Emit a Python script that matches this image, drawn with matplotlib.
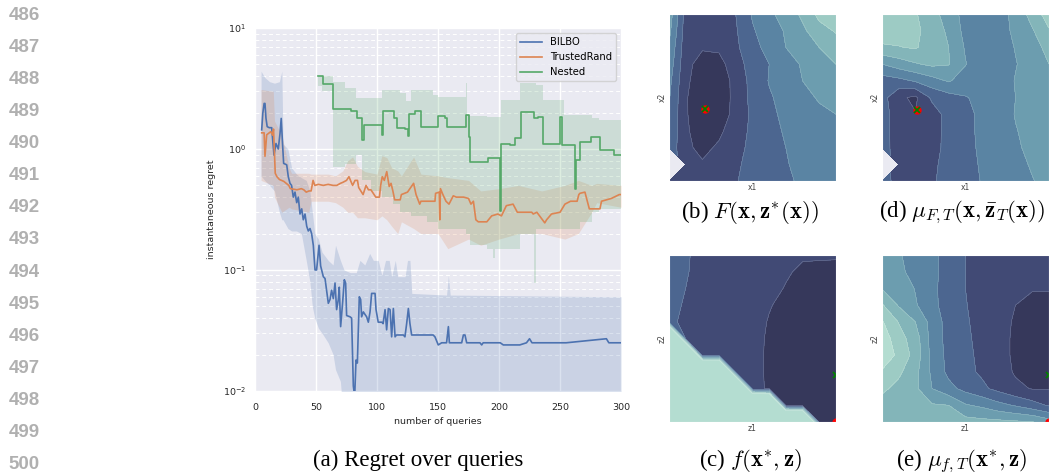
import numpy as np
import matplotlib
matplotlib.use("Agg")
import matplotlib.pyplot as plt
from matplotlib.lines import Line2D

plt.rcParams["mathtext.fontset"] = "cm"
plt.rcParams["font.family"] = ["DejaVu Sans"]

# ---- regret curves ----
bilbo_x = [5.5, 6.4, 7.5, 8.2, 9, 10, 11.7, 13.7, 14.5, 15.6, 17.2, 19.1, 20.5, 21.5, 22.7, 23.5, 26, 27.3,
           28.7, 30, 31.4, 32.8, 34.2, 35.5, 36.9, 38.3, 39.6, 41, 42.4, 43.7, 45.1, 46.4, 47.8, 49.2, 50.5,
           52.5, 53.8, 56, 57.4, 60.1, 61.5, 62.8, 64.2, 65.6, 66.9, 68.3, 69.1, 70.2, 71.9, 73.2, 74.3,
           75.1, 77.9, 79.2, 80.6, 81.7, 82.8, 83.9, 85.5, 86.6, 87.4, 88.8, 90.1, 91.5, 92.9, 94.3, 95.6,
           98.4, 99.2, 101, 104, 105, 106.6, 107.9, 109.3, 110.7, 112, 113.4, 114.8, 116, 121.6, 122.9,
           124.3, 125.7, 127, 128.4, 146, 147.5, 150.2, 153, 157, 158.5, 159.3, 169.4, 170.8, 172.1, 173.5,
           184.4, 185.8, 187, 201, 203.5, 217, 222.5, 225, 227, 255, 288, 290, 300]
bilbo_y = [1.44, 1.97, 2.38, 2.38, 1.8, 1.53, 1.5, 1.5, 1.19, 0.89, 1.11, 1.0, 1.34, 1.79, 1.05, 0.76, 0.74, 0.59,
           0.52, 0.5, 0.4, 0.44, 0.36, 0.4, 0.29, 0.32, 0.26, 0.29, 0.23, 0.21, 0.22, 0.2, 0.16, 0.1, 0.1,
           0.16, 0.108, 0.088, 0.085, 0.053, 0.057, 0.068, 0.058, 0.078, 0.047, 0.057, 0.072, 0.034, 0.055, 0.083, 0.078,
           0.042, 0.041, 0.04, 0.011, 0.009, 0.018, 0.017, 0.06, 0.057, 0.041, 0.045, 0.043, 0.041, 0.037, 0.045, 0.064,
           0.064, 0.047, 0.037, 0.037, 0.036, 0.047, 0.032, 0.048, 0.047, 0.028, 0.048, 0.028, 0.029, 0.029, 0.028,
           0.036, 0.048, 0.036, 0.029, 0.029, 0.028, 0.024, 0.025, 0.025, 0.034, 0.025, 0.025, 0.029, 0.029, 0.025,
           0.025, 0.024, 0.025, 0.025, 0.024, 0.024, 0.025, 0.027, 0.025, 0.025, 0.027, 0.025, 0.025]
bilbo_bx = [5, 8, 12, 16, 20, 22, 23, 27, 30, 34, 38, 42, 45, 47, 49, 52, 55, 60, 64, 66, 70, 73, 78, 83, 86,
            90, 94, 97, 101, 104, 107, 110, 112, 115, 117, 123, 125, 127, 128.5, 157, 158.5, 160, 300]
bilbo_lo = [0.6, 0.55, 0.5, 0.45, 0.3, 0.26, 0.26, 0.22, 0.21, 0.21, 0.2, 0.12, 0.08, 0.05, 0.04, 0.033, 0.03,
            0.025, 0.02, 0.015, 0.012, 0.005, 0.005, 0.005, 0.005, 0.005, 0.005, 0.005, 0.005, 0.005, 0.005,
            0.005, 0.005, 0.005, 0.005, 0.005, 0.005, 0.005, 0.005, 0.005, 0.005, 0.005, 0.005]
bilbo_hi = [4.4, 3.9, 3.6, 3.5, 3.6, 4.4, 1.1, 1.0, 0.7, 0.62, 0.58, 0.55, 0.45, 0.3, 0.2, 0.18, 0.14,
            0.12, 0.11, 0.16, 0.12, 0.1, 0.095, 0.095, 0.12, 0.11, 0.137, 0.12, 0.12, 0.09, 0.12, 0.12,
            0.088, 0.12, 0.088, 0.088, 0.12, 0.12, 0.064, 0.062, 0.09, 0.062, 0.06]

trust_x = [5.5, 7.5, 8.2, 9.6, 12.9, 14.5, 15.2, 16.6, 18, 20, 23.6, 27.7, 29, 34.4, 38, 40, 42, 44.3, 46,
           47.6, 49, 52, 56, 60, 64, 67, 70, 72, 75, 77, 80, 82, 84, 85, 88.6, 91, 93, 95, 99, 102, 103,
           104.3, 106, 108, 110, 111.5, 113, 114.5, 119, 120, 125, 130, 132, 135, 136, 140, 147.5, 148, 151,
           151.5, 152, 154, 156.5, 159, 162.5, 165, 171, 175, 177, 179, 181, 183, 190, 194, 199, 202, 206,
           211.5, 215, 226.8, 228, 231, 237.5, 239, 243, 250, 254, 258.6, 264, 265.4, 266.3, 270.4, 274,
           282.7, 284, 292, 298.6, 300]
trust_y = [1.36, 1.36, 0.87, 1.31, 1.39, 1.3, 1.46, 0.63, 0.59, 0.56, 0.54, 0.5, 0.47, 0.46, 0.47, 0.46, 0.44,
           0.45, 0.45, 0.55, 0.5, 0.51, 0.5, 0.51, 0.5, 0.5, 0.52, 0.53, 0.55, 0.59, 0.5, 0.55, 0.55, 0.48,
           0.42, 0.5, 0.46, 0.46, 0.4, 0.4, 0.5, 0.59, 0.55, 0.65, 0.49, 0.52, 0.45, 0.38, 0.38, 0.42, 0.44,
           0.52, 0.42, 0.35, 0.37, 0.37, 0.37, 0.43, 0.44, 0.26, 0.47, 0.42, 0.37, 0.35, 0.41, 0.4, 0.4,
           0.39, 0.35, 0.37, 0.26, 0.25, 0.25, 0.28, 0.29, 0.28, 0.34, 0.35, 0.3, 0.3, 0.29, 0.3, 0.245, 0.26,
           0.29, 0.3, 0.35, 0.37, 0.37, 0.42, 0.43, 0.44, 0.32, 0.32, 0.37, 0.39, 0.42, 0.42]
trust_bx = [5, 15, 16, 22, 28, 30, 44, 46, 60, 66, 72, 76, 80, 84, 90, 100, 104, 108, 112, 117, 120, 130,
            136, 150, 158, 175, 185, 200, 216, 235, 254, 265, 276, 280, 300]
trust_lo = [0.55, 0.5, 0.4, 0.3, 0.33, 0.32, 0.3, 0.37, 0.37, 0.36, 0.33, 0.3, 0.3, 0.27, 0.27, 0.26, 0.28,
            0.26, 0.23, 0.2, 0.25, 0.22, 0.2, 0.2, 0.15, 0.18, 0.16, 0.18, 0.2, 0.2, 0.18, 0.2, 0.3, 0.36, 0.33]
trust_hi = [3.1, 3.0, 1.7, 1.3, 0.7, 0.63, 0.63, 0.62, 0.62, 0.6, 0.66, 0.8, 0.86, 0.72, 0.65, 0.62, 0.88,
            0.85, 0.7, 0.66, 0.6, 0.86, 0.62, 0.6, 0.58, 0.55, 0.45, 0.47, 0.5, 0.45, 0.5, 0.55, 0.5, 0.52, 0.5]

nested_x = [52, 56, 64, 79, 84, 88, 89, 104, 105, 114, 116, 123, 125, 126, 131, 136, 150, 156, 157, 173, 175,
            176, 191, 201, 202, 209, 213, 218, 229, 232, 236, 250, 252, 262, 263, 266, 275, 283, 294, 300]
nested_y = [4.0, 3.44, 2.15, 2.08, 1.79, 1.19, 1.58, 1.31, 2.08, 1.79, 1.5, 1.45, 1.28, 1.93, 2.07, 1.53, 1.89,
            1.8, 1.53, 1.9, 1.26, 0.785, 0.84, 0.31, 1.1, 1.07, 1.23, 2.04, 1.79, 1.85, 1.1, 1.85, 1.07, 0.47,
            0.81, 1.15, 1.26, 0.98, 0.9, 0.9]
nested_bx = [52, 55, 64, 74, 83, 88, 95, 104, 113, 119, 124, 128, 141, 146, 150, 173, 174, 176, 190, 195, 197,
             202, 217, 229, 230, 236, 253, 266, 276, 282, 300]
nested_lo = [3.3, 3.0, 0.71, 0.75, 0.9, 0.55, 0.45, 0.4, 0.35, 0.3, 0.3, 0.28, 0.25, 0.25, 0.22, 0.2, 0.2,
             0.16, 0.15, 0.125, 0.15, 0.15, 0.2, 0.078, 0.22, 0.22, 0.22, 0.25, 0.3, 0.32, 0.3]
nested_hi = [4.0, 4.0, 3.6, 3.17, 2.63, 2.63, 2.63, 3.06, 3.06, 2.9, 2.5, 3.06, 3.06, 2.8, 2.7, 3.5, 1.9,
             1.88, 1.85, 1.85, 1.85, 2.54, 3.5, 3.5, 3.4, 2.54, 1.91, 1.9, 1.8, 1.74, 1.74]

# ---- contour grids (rows from top to bottom, columns left to right) ----
grid_b = [
    [4.6, 1.6, 1.3, 1.4, 2.0, 3.1, 3.8, 4.4, 5.2, 6.3, 6.8],
    [4.3, 1.5, 1.15, 1.25, 1.9, 2.9, 3.5, 4.1, 4.8, 5.6, 6.1],
    [3.9, 1.4, 1.1, 1.15, 1.8, 2.7, 3.3, 4.0, 4.4, 5.0, 5.5],
    [3.6, 1.3, 0.6, 0.7, 1.5, 2.5, 3.0, 3.6, 4.1, 4.6, 5.0],
    [3.3, 1.2, 0.45, 0.45, 1.3, 2.35, 3.05, 3.4, 4.0, 4.3, 4.6],
    [3.1, 1.1, 0.3, 0.4, 1.3, 2.3, 2.9, 3.3, 3.7, 4.1, 4.3],
    [3.0, 1.1, 0.35, 0.5, 1.3, 2.2, 2.8, 3.2, 3.5, 3.8, 4.0],
    [2.9, 1.15, 0.5, 0.8, 1.55, 2.2, 2.7, 3.1, 3.4, 3.6, 3.8],
    [2.7, 1.2, 0.75, 1.15, 1.75, 2.2, 2.6, 3.0, 3.3, 3.5, 3.7],
    [np.nan, 1.3, 1.1, 1.3, 1.85, 2.3, 2.6, 2.95, 3.2, 3.4, 3.6],
    [2.0, 1.4, 1.3, 1.4, 1.95, 2.3, 2.6, 2.9, 3.1, 3.3, 3.5],
]
grid_d = [
    [6.8, 6.6, 6.1, 5.3, 4.6, 3.6, 3.4, 3.6, 4.3, 5.4, 6.5],
    [6.7, 6.5, 6.2, 5.6, 4.8, 3.7, 3.4, 3.6, 4.2, 4.9, 5.9],
    [5.8, 5.95, 6.1, 5.5, 5.0, 3.9, 3.4, 3.5, 4.05, 4.6, 5.3],
    [4.0, 4.5, 4.9, 5.2, 5.05, 4.05, 3.4, 3.5, 3.95, 4.4, 5.0],
    [2.5, 2.7, 3.1, 3.6, 4.1, 3.5, 3.3, 3.5, 4.05, 4.3, 4.6],
    [2.4, 1.2, 0.8, 2.2, 2.6, 2.95, 3.2, 3.4, 4.0, 4.2, 4.5],
    [2.6, 1.3, 1.05, 1.5, 2.4, 2.75, 3.2, 3.5, 4.05, 4.3, 4.5],
    [2.6, 1.3, 1.15, 1.5, 2.4, 2.75, 3.2, 3.5, 3.95, 4.3, 4.5],
    [2.6, 1.35, 1.2, 1.55, 2.4, 2.75, 3.15, 3.45, 3.85, 4.25, 4.5],
    [np.nan, 1.4, 1.3, 1.8, 2.35, 2.7, 3.1, 3.4, 3.7, 4.1, 4.4],
    [2.6, 1.5, 1.45, 1.9, 2.3, 2.65, 3.05, 3.35, 3.65, 3.95, 4.3],
]
grid_c = [
    [2.4, 2.15, 1.6, 1.5, 1.45, 1.4, 1.35, 1.3, 1.1, 1.1, 1.08],
    [2.4, 2.1, 1.6, 1.5, 1.45, 1.4, 1.3, 1.1, 0.85, 0.8, 0.8],
    [2.3, 2.0, 1.6, 1.5, 1.45, 1.35, 1.25, 0.95, 0.8, 0.75, 0.75],
    [2.3, 1.9, 1.6, 1.5, 1.4, 1.3, 1.05, 0.8, 0.7, 0.7, 0.7],
    [2.2, 1.8, 1.6, 1.5, 1.4, 1.3, 0.95, 0.75, 0.7, 0.7, 0.7],
    [20, 1.8, 1.6, 1.5, 1.4, 1.25, 0.9, 0.7, 0.65, 0.65, 0.65],
    [20, 20, 1.55, 1.45, 1.35, 1.2, 0.9, 0.7, 0.6, 0.6, 0.6],
    [20, 20, 20, 20, 1.35, 1.2, 0.9, 0.7, 0.6, 0.6, 0.6],
    [20, 20, 20, 20, 20, 1.2, 0.92, 0.7, 0.6, 0.6, 0.6],
    [20, 20, 20, 20, 20, 20, 20, 0.75, 0.6, 0.6, 0.6],
    [20, 20, 20, 20, 20, 20, 20, 20, 20, 0.8, 0.8],
]
grid_e = [
    [4.6, 4.1, 3.6, 3.2, 2.7, 2.0, 1.7, 1.5, 1.4, 1.3, 1.3],
    [4.8, 4.2, 3.7, 3.2, 2.7, 2.0, 1.6, 1.4, 1.3, 1.2, 1.2],
    [4.95, 4.6, 3.95, 3.2, 2.6, 2.0, 1.6, 1.35, 1.15, 1.05, 1.05],
    [6.1, 4.9, 4.1, 3.3, 2.5, 2.05, 1.6, 1.3, 1.0, 0.8, 0.8],
    [7.1, 5.95, 5.0, 3.6, 2.6, 2.1, 1.7, 1.3, 0.9, 0.6, 0.6],
    [7.6, 6.4, 5.5, 3.6, 2.65, 2.15, 1.75, 1.3, 0.85, 0.5, 0.5],
    [7.6, 6.8, 5.6, 3.7, 2.7, 2.2, 1.8, 1.3, 0.85, 0.5, 0.5],
    [6.9, 6.2, 5.3, 3.8, 2.75, 2.25, 1.85, 1.4, 0.9, 0.6, 0.6],
    [6.2, 5.7, 5.2, 4.0, 3.3, 2.7, 2.2, 1.7, 1.2, 0.95, 0.95],
    [5.6, 5.4, 5.2, 5.1, 5.0, 4.1, 3.8, 3.3, 2.9, 2.4, 1.9],
    [5.5, 5.5, 5.5, 5.5, 5.45, 5.4, 5.3, 5.25, 5.15, 5.05, 4.5],
]
levels = [0, 1, 2, 3, 4, 5, 6, 7, 40]
palette = ["#36385B", "#414A75", "#4C6690", "#5A84A3", "#6C9DAF", "#83B5B9", "#9DCBC4", "#B4DDD1"]

line_numbers = list(range(486, 501))

C0, C1, C2 = "#4C72B0", "#DD8452", "#55A868"
BG = "#EAEAF2"

fig = plt.figure(figsize=(10.58, 4.75), dpi=100)

# ---- regret panel ----
ax = fig.add_axes([0.241, 0.177, 0.346, 0.764])
ax.set_facecolor(BG)
for s in ax.spines.values():
    s.set_visible(False)
ax.set_yscale("log")
ax.set_xlim(0, 300)
ax.set_ylim(0.01, 10)
ax.set_xticks([0, 50, 100, 150, 200, 250, 300])
ax.grid(which="major", color="white", lw=1.0)
ax.grid(which="minor", axis="y", color="white", lw=0.7, ls=(0, (4, 3)))
ax.set_axisbelow(True)
ax.tick_params(which="both", length=0, labelsize=6.8, labelcolor="#262626")
ax.tick_params(axis="x", pad=8.5)
ax.tick_params(axis="y", pad=6.5)

ax.fill_between(bilbo_bx, bilbo_lo, bilbo_hi, color=C0, alpha=0.2, lw=0)
ax.fill_between(trust_bx, trust_lo, trust_hi, color=C1, alpha=0.2, lw=0)
ax.fill_between(nested_bx, nested_lo, nested_hi, color=C2, alpha=0.2, lw=0, step="post")
ax.plot(bilbo_x, bilbo_y, color=C0, lw=1.2)
ax.plot(trust_x, trust_y, color=C1, lw=1.2)
ax.plot(nested_x, nested_y, color=C2, lw=1.2, drawstyle="steps-post")

ax.set_xlabel("number of queries", fontsize=6.8, color="#262626", labelpad=4)
ax.set_ylabel("instantaneous regret", fontsize=6.8, color="#262626", labelpad=5)
handles = [Line2D([], [], color=c, lw=1.2) for c in (C0, C1, C2)]
ax.legend(handles, ["BILBO", "TrustedRand", "Nested"], loc="upper right", fontsize=7.2,
          facecolor=BG, edgecolor="#CCCCCC", framealpha=0.8, handlelength=2.2)

# ---- contour panels ----
def panel(rect, rows, xl, yl, green, red):
    a = fig.add_axes(rect)
    a.set_facecolor(BG)
    z = np.ma.masked_invalid(np.flipud(np.array(rows, dtype=float)))
    gx = np.linspace(0, 1, z.shape[1])
    gy = np.linspace(0, 1, z.shape[0])
    a.contourf(gx, gy, z, levels=levels, colors=palette)
    a.contour(gx, gy, z, levels=levels[1:-1], colors="white", linewidths=0.3, alpha=0.35)
    a.plot(*red, "o", color="red", ms=5)
    a.plot(*green, "x", color="green", ms=4, mew=1.3)
    a.set_xlim(0, 1)
    a.set_ylim(0, 1)
    a.set_xticks([])
    a.set_yticks([])
    for s in a.spines.values():
        s.set_color("white")
        s.set_linewidth(0.8)
    a.set_xlabel(xl, fontsize=5.5, color="#444444", labelpad=1.5)
    a.set_ylabel(yl, fontsize=5.5, color="#444444", labelpad=1.5)
    return a

panel([0.6323, 0.6189, 0.1578, 0.3516], grid_b, "x1", "x2", (0.215, 0.43), (0.215, 0.43))
panel([0.8336, 0.6189, 0.1578, 0.3516], grid_d, "x1", "x2", (0.212, 0.428), (0.212, 0.428))
panel([0.6323, 0.1116, 0.1578, 0.3516], grid_c, "z1", "z2", (1.0, 0.28), (1.0, 0.0))
panel([0.8336, 0.1116, 0.1578, 0.3516], grid_e, "z1", "z2", (1.0, 0.28), (1.0, 0.0))

# ---- captions ----
cap = dict(ha="center", va="center", fontsize=16.5, family="Liberation Serif", color="black")
fig.text(418 / 1058, 1 - 460 / 475, "(a) Regret over queries", **cap)
fig.text(750 / 1058, 1 - 212 / 475, r"(b) $F(\mathbf{x},\mathbf{z}^{*}(\mathbf{x}))$", **cap)
fig.text(962 / 1058, 1 - 212 / 475, r"(d) $\mu_{F,T}(\mathbf{x},\bar{\mathbf{z}}_{T}(\mathbf{x}))$", **cap)
fig.text(750 / 1058, 1 - 461 / 475, r"(c) $f(\mathbf{x}^{*},\mathbf{z})$", **cap)
fig.text(962 / 1058, 1 - 461 / 475, r"(e) $\mu_{f,T}(\mathbf{x}^{*},\mathbf{z})$", **cap)

# ---- line numbers in the margin ----
for i, n in enumerate(line_numbers):
    fig.text(24 / 1058, 1 - (15 + i * 32.14) / 475, str(n), ha="center", va="center",
             fontsize=13.5, weight="bold", color="#B0B0B0", family="Liberation Sans")

fig.savefig("out.png", dpi=100)
